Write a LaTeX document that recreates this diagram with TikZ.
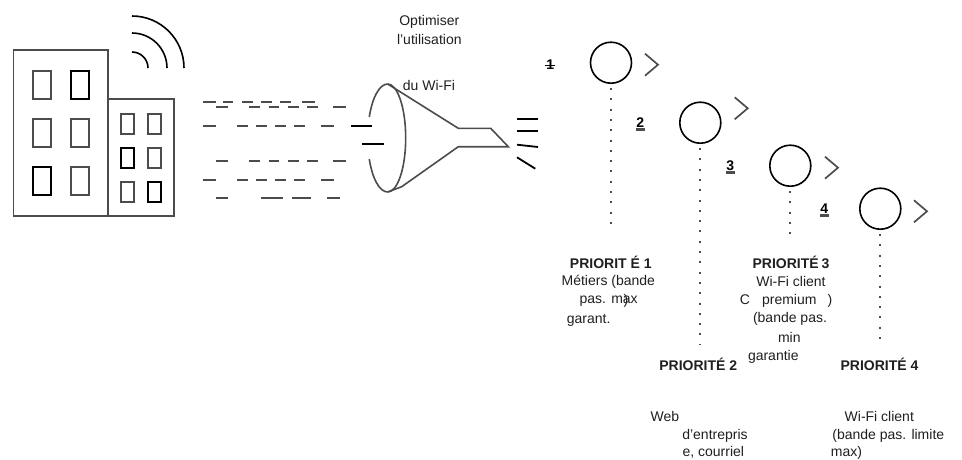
\documentclass[tikz,border=0pt]{standalone}
\usepackage{fontspec}
\setmainfont{Liberation Sans}
\definecolor{wallgray}{gray}{0.3}
\definecolor{txtgray}{gray}{0.12}
\tikzset{
  wall/.style={draw=wallgray,line width=1.6pt},
  winblack/.style={draw=black,line width=1.6pt},
  dashgray/.style={draw=wallgray,line width=2pt},
  dashblack/.style={draw=black,line width=1.8pt},
  prio/.style={circle,draw=black,line width=1.6pt,minimum size=41pt,inner sep=0pt},
  chevron/.style={draw=wallgray,line width=1.7pt},
  dotline/.style={draw=wallgray,line width=2pt,dash pattern=on 2pt off 8.3pt,shorten <=4pt},
  txt/.style={inner sep=0pt,text=txtgray,font=\fontsize{14}{16}\selectfont},
  head/.style={txt,font=\fontsize{14}{16}\selectfont\bfseries},
  num/.style={inner sep=0pt,text=black,font=\fontsize{14}{16}\selectfont\bfseries},
  numbar/.style={draw=wallgray,line width=3.5pt}
}
\begin{document}
\begin{tikzpicture}[x=1pt,y=-1pt]
\useasboundingbox (0,0) rectangle (962,459);

% buildings
\draw[wall] (13.5,50) rectangle (108,216);
\draw[wall] (108,99) rectangle (174,216);
\foreach \x/\y in {33/71,33/119,71/119,71/167}
  \draw[wall] (\x,\y) rectangle (\x+18,\y+28);
\draw[winblack] (71,71) rectangle (89,99);
\draw[winblack] (33,167) rectangle (51,195);
\foreach \x/\y in {121/114,148/114,148/148,121/182}
  \draw[wall] (\x,\y) rectangle (\x+13,\y+20);
\draw[winblack] (121,148) rectangle (134,168);
\draw[winblack] (148,182) rectangle (161,202);

% signal
\foreach \r in {16,35,52}
  \draw[black,line width=1.6pt] (132,68-\r) arc (-90:0:\r);

% packets
\foreach \a/\b in {203.3/215.7,222.7/233.3,242/252.7,261/271.7,280.3/291,302.3/315}
  \draw[dashgray] (\a,101.7) -- (\b,101.7);
\foreach \y in {107.3,161}
  \foreach \a/\b in {215.7/228.3,249.3/260,268.7/279.3,288/298.7,307/318,333.3/346}
    \draw[dashgray] (\a,\y) -- (\b,\y);
\foreach \y in {126,179.7}
  \foreach \a/\b in {202.7/215.7,237/247.7,256.3/267,275.3/286,294.3/305.3,321.3/334}
    \draw[dashgray] (\a,\y) -- (\b,\y);
\foreach \a/\b in {215.7/228.3,261.3/283.3,291.7/311,327/340}
  \draw[dashgray] (\a,198.3) -- (\b,198.3);
\draw[dashblack] (350.7,126) -- (372,126);
\draw[dashblack] (362,144.3) -- (383.7,144.3);

% funnel
\draw[wall] (387.7,84) arc (-90:-157:20 and 54);
\draw[wall] (387.7,192) arc (90:157:20 and 54);
\draw[wall] (387.7,84) arc (-90:90:18 and 54);
\draw[wall,line join=miter] (387.7,84) -- (458.3,128.3) -- (490.7,128.3) -- (508.3,146.7) -- (458.3,146.7) -- (401.7,186.7) -- (387.7,192);

% out
\draw[dashblack] (517,118.7) -- (538,118.7);
\draw[dashblack] (517,131.3) -- (538,131.3);
\draw[dashblack] (517,144.7) -- (538,147);
\draw[dashblack] (517,157.3) -- (535.3,168.7);

% priorities
\foreach \n/\x/\y in {1/611/62.7,2/700.3/122.7,3/790.3/165.7,4/880.3/208.7}
  \node[prio] (prio\n) at (\x,\y) {};
\coordinate (prioend1) at (611,225);
\coordinate (prioend2) at (700.3,344);
\coordinate (prioend3) at (790.3,241);
\coordinate (prioend4) at (880.3,346);
\foreach \n in {1,2,3,4}
  \draw[dotline] (prio\n.south) -- (prioend\n);
\foreach \x/\y in {658/64.7,747.7/108.3,838/167.7,927/211.3}
  \draw[chevron] (\x-13,\y-11) -- (\x,\y) -- (\x-13,\y+11);

% numbers
\node[num] (num1) at (550.3,64.5) {1};
\node[num] (num2) at (640.3,123) {2};
\node[num] (num3) at (730.3,166) {3};
\node[num] (num4) at (824.3,209) {4};
\draw[black,line width=1pt] (num1.west) ++(-1,0.5) -- ++(10,0);
\foreach \n in {2,3,4}
  \draw[numbar] (num\n.south west) ++(0,1.5) -- ++(8.5,0);

% labels
\node[txt] (opt1) at (429.3,22) {Optimiser};
\node[txt] (opt2) at (429.3,39) {l’utilisation};
\node[txt] (opt3) at (429,85.7) {du Wi-Fi};

\node[head] (head1) at (610.8,262.5) {PRIORIT É 1};
\node[txt] (met1) at (608.3,281.7) {Métiers (bande};
\node[txt] (met2) at (608.7,301) {pas. max};
\node[txt] (met3) at (626,301) {)};
\node[txt,anchor=west] (met4) at (566.7,320) {garant.};

\node[head] (head3) at (791,262.5) {PRIORITÉ\hspace{3pt}3};
\node[txt] (cli1) at (791,281.3) {Wi-Fi client};
\node[txt] (cli2) at (745,299.5) {C};
\node[txt] (cli3) at (789.3,300.7) {premium};
\node[txt] (cli4) at (830,300.5) {)};
\node[txt] (cli5) at (790,319) {(bande pas.};
\node[txt] (cli6) at (789.3,337.7) {min};
\node[txt] (cli7) at (773.3,356.5) {garantie};

\node[head] (head2) at (698.3,364.3) {PRIORITÉ 2};
\node[txt] (web1) at (665,416.7) {Web};
\node[txt] (web2) at (715,435.7) {d’entrepris};
\node[txt] (web3) at (713.3,452.5) {e, courriel};

\node[head] (head4) at (879.5,364.3) {PRIORITÉ 4};
\node[txt] (lim1) at (879.3,416.7) {Wi-Fi client};
\node[txt] (lim2) at (888.3,435.7) {(bande pas. limite};
\node[txt] (lim3) at (846.5,452.5) {max)};
\end{tikzpicture}
\end{document}
